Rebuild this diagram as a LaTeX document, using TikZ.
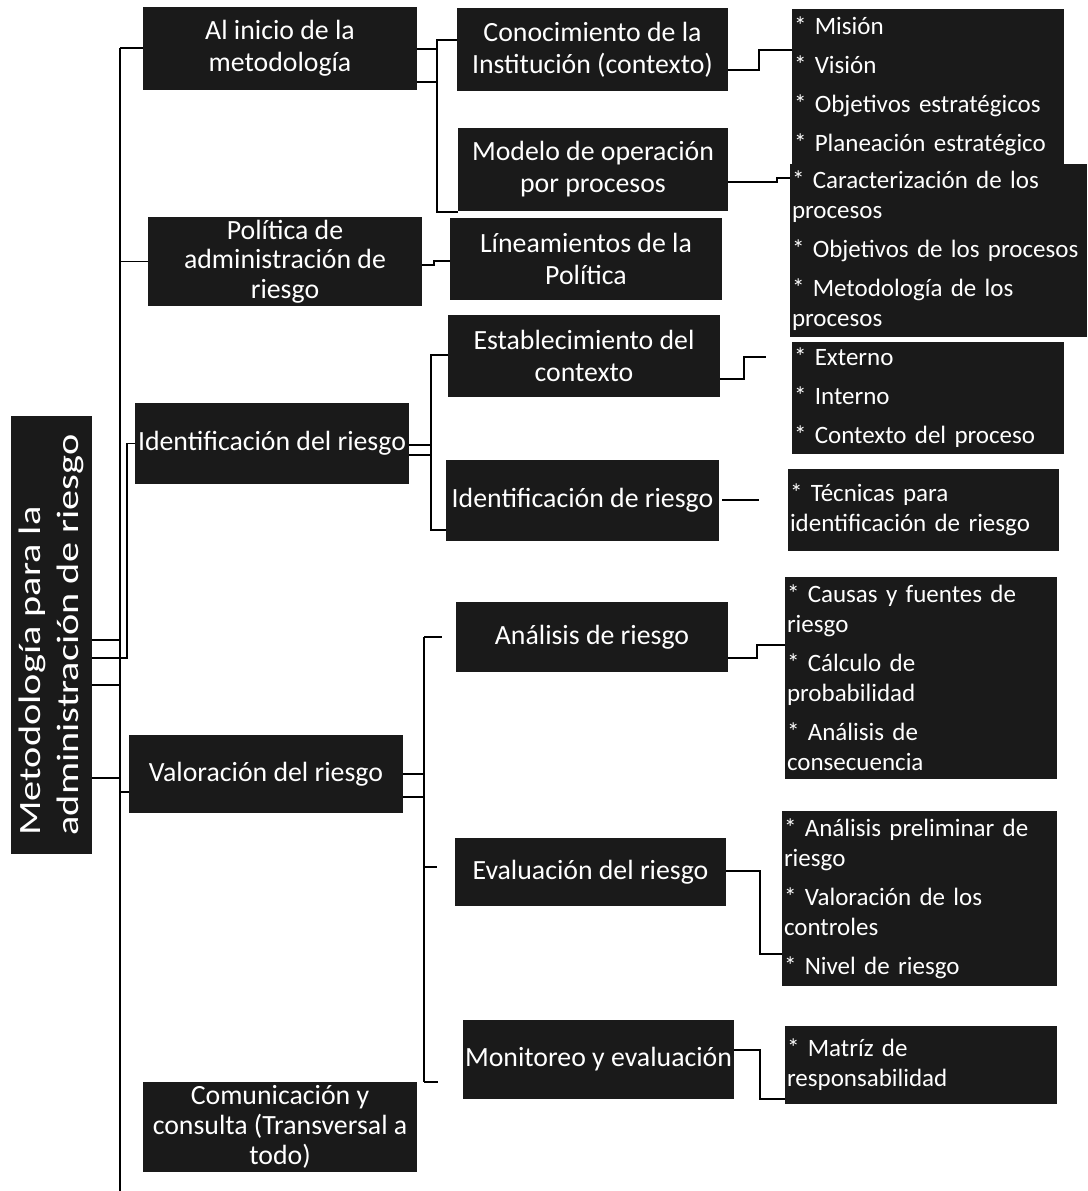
\documentclass[tikz,border=0pt]{standalone}
\usepackage{fontspec}
\usepackage{graphicx}
\setmainfont{Carlito}
\definecolor{boxfill}{HTML}{1A1A1A}
\tikzset{
  box/.style={fill=boxfill, text=white, inner sep=0pt, align=center,
    font=\fontsize{27.8}{32}\selectfont},
  lst/.style={fill=boxfill, text=white, inner xsep=2pt, inner ysep=0pt, align=left,
    font=\fontsize{25}{30}\selectfont},
  conn/.style={draw=black, line width=1.8pt}
}
\begin{document}
\begin{tikzpicture}[x=1pt,y=-1pt]
\useasboundingbox[fill=white] (0,0) rectangle (1087,1191);

% root
\node[box, minimum width=81pt, minimum height=438pt, font=\fontsize{31}{38}\selectfont] (root) at (51.5,635)
  {\rotatebox{90}{\scalebox{1.3}[1]{\begin{tabular}{@{}l@{}}Metodología para la\\administración de riesgo\end{tabular}}}};

% level 1
\node[box, minimum width=274pt, minimum height=83pt] (inicio) at (280,48.5) {Al inicio de la\\metodología};
\node[box, minimum width=274pt, minimum height=89pt, font=\fontsize{27.8}{29.5}\selectfont] (politica) at (285,261.5) {Política de\\administración de\\riesgo};
\node[box, minimum width=274pt, minimum height=81pt] (ident) at (272,443.5) {Identificación del riesgo};
\node[box, minimum width=274pt, minimum height=78pt] (valor) at (266,774) {Valoración del riesgo};
\node[box, minimum width=274pt, minimum height=90pt, font=\fontsize{27.8}{30}\selectfont] (comun) at (280,1127) {Comunicación y\\consulta (Transversal a\\todo)};

% level 2
\node[box, minimum width=271pt, minimum height=83pt] (conoc) at (592.5,49.5) {Conocimiento de la\\Institución (contexto)};
\node[box, minimum width=270pt, minimum height=83pt] (modelo) at (593,169.5) {Modelo de operación\\por procesos};
\node[box, minimum width=272pt, minimum height=82pt] (lineam) at (586,259) {Líneamientos de la\\Política};
\node[box, minimum width=272pt, minimum height=82pt] (estab) at (584,356) {Establecimiento del\\contexto};
\node[box, minimum width=273pt, minimum height=81pt] (identr) at (582.5,500.5) {Identificación de riesgo};
\node[box, minimum width=272pt, minimum height=70pt] (analisis) at (592,637) {Análisis de riesgo};
\node[box, minimum width=271pt, minimum height=68pt] (evalu) at (590.5,872) {Evaluación del riesgo};
\node[box, minimum width=271pt, minimum height=79pt] (monit) at (598.5,1059.5) {Monitoreo y evaluación};

% level 3 lists
\node[lst, text width=268pt, minimum height=155pt] (mision) at (928,86.5)
  {* Misión\\[9pt]* Visión\\[9pt]* Objetivos estratégicos\\[9pt]* Planeación estratégico};
\node[lst, text width=293pt, minimum height=173pt] (caract) at (938.5,250.5)
  {* Caracterización de los\\procesos\\[9pt]* Objetivos de los procesos\\[9pt]* Metodología de los\\procesos};
\node[lst, text width=268pt, minimum height=112pt] (externo) at (928,398)
  {* Externo\\[9pt]* Interno\\[9pt]* Contexto del proceso};
\node[lst, text width=267pt, minimum height=82pt] (tecnicas) at (923.5,510)
  {* Técnicas para\\identificación de riesgo};
\node[lst, text width=268pt, minimum height=202pt] (causas) at (921,678)
  {* Causas y fuentes de\\riesgo\\[9pt]* Cálculo de\\probabilidad\\[9pt]* Análisis de\\consecuencia};
\node[lst, text width=271pt, minimum height=175pt] (prelim) at (919.5,898.5)
  {* Análisis preliminar de\\riesgo\\[9pt]* Valoración de los\\controles\\[9pt]* Nivel de riesgo};
\node[lst, text width=268pt, minimum height=78pt] (matriz) at (921,1065)
  {* Matríz de\\responsabilidad};

% trunk
\coordinate (tT) at (120,48);
\coordinate (tB) at (120,1191);
\draw[conn] (tT) -- (tB);
\draw[conn] (tT) -- (inicio.west |- tT);
\draw[conn] (tT |- politica.west) -- (politica.west);
\foreach \yy in {640,685,778} \draw[conn] (root.east |- 0,\yy) -- (tT |- 0,\yy);
\draw[conn] (root.east |- 0,658) -- (127,658) |- (ident.west);
\draw[conn] (tT |- 0,792) -- (valor.west |- 0,792);

% level 1 -> level 2
\draw[conn] (inicio.east |- 0,49) -- (437,49);
\draw[conn] (inicio.east |- 0,82) -- (437,82);
\draw[conn] (conoc.west |- 0,40) -- (437,40) -- (437,212) -- (modelo.west |- 0,212);
\draw[conn] (politica.east |- 0,265) -- (434,265) -- (434,261) -- (lineam.west |- 0,261);
\draw[conn] (ident.east |- 0,445) -- (431,445);
\draw[conn] (ident.east |- 0,455) -- (431,455);
\draw[conn] (estab.west |- 0,355) -- (431,355) -- (431,530) -- (identr.west |- 0,530);
\coordinate (vA) at (424,637);
\coordinate (vB) at (424,1082);
\draw[conn] (valor.east |- 0,774) -- (vA |- 0,774);
\draw[conn] (valor.east |- 0,797) -- (vA |- 0,797);
\draw[conn] (vA) -- (vB);
\draw[conn, shorten >=14pt] (vA) -- (analisis.west);
\draw[conn, shorten >=18pt] (vA |- 0,867) -- (evalu.west |- 0,867);
\draw[conn, shorten >=25pt] (vB) -- (monit.west |- vB);

% level 2 -> level 3
\draw[conn] (conoc.east |- 0,70) -- (759,70) -- (759,50) -- (mision.west |- 0,50);
\draw[conn] (modelo.east |- 0,182) -- (777,182) -- (777,178) -- (caract.west |- 0,178);
\draw[conn, shorten >=26pt] (estab.east |- 0,379) -- (744,379) -- (744,357) -- (externo.west |- 0,357);
\draw[conn, shorten <=3pt, shorten >=29pt] (identr.east |- 0,500) -- (tecnicas.west |- 0,500);
\draw[conn] (analisis.east |- 0,658) -- (757,658) -- (757,645) -- (causas.west |- 0,645);
\draw[conn] (evalu.east |- 0,871) -- (760,871) -- (760,954) -- (prelim.west |- 0,954);
\draw[conn] (monit.east |- 0,1050) -- (760,1050) -- (760,1099) -- (matriz.west |- 0,1099);
\end{tikzpicture}
\end{document}
